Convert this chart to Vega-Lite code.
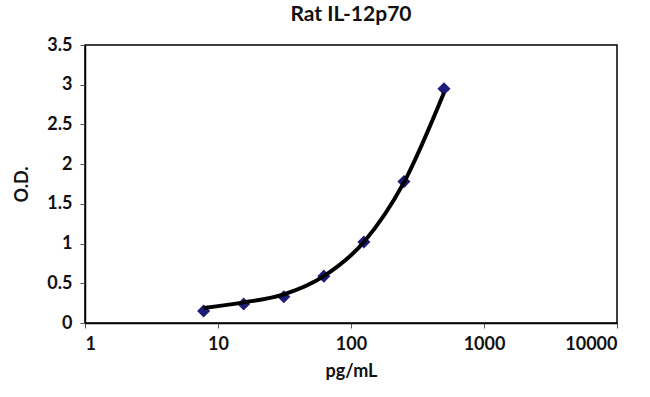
{
  "$schema": "https://vega.github.io/schema/vega-lite/v6.json",
  "autosize": "none",
  "width": 532,
  "height": 278,
  "padding": {"left": 85, "top": 45, "right": 33, "bottom": 74},
  "background": "white",
  "title": {"text": "Rat IL-12p70", "font": "Lato", "fontSize": 21, "fontWeight": "bold", "color": "#111111", "offset": 11, "anchor": "middle"},
  "config": {"view": {"stroke": "#000000", "strokeWidth": 1.5}},
  "datasets": {
    "pts": [
      {"conc": 7.8, "od": 0.15},
      {"conc": 15.6, "od": 0.24},
      {"conc": 31.25, "od": 0.33},
      {"conc": 62.5, "od": 0.59},
      {"conc": 125, "od": 1.02},
      {"conc": 250, "od": 1.78},
      {"conc": 500, "od": 2.95}
    ],
    "fit": [
      {"conc": 7.8, "od": 0.19},
      {"conc": 15.6, "od": 0.26},
      {"conc": 31.25, "od": 0.36},
      {"conc": 62.5, "od": 0.59},
      {"conc": 125, "od": 1.02},
      {"conc": 250, "od": 1.77},
      {"conc": 500, "od": 2.9}
    ]
  },
  "encoding": {
    "x": {"field": "conc", "type": "quantitative",
      "scale": {"type": "log", "domain": [1, 10000], "nice": false},
      "axis": {"values": [1, 10, 100, 1000, 10000], "format": "d", "title": "pg/mL", "grid": false,
        "domainColor": "#000", "domainWidth": 1.5, "tickColor": "#555", "tickSize": 5,
        "labelFont": "Lato", "labelFontSize": 18, "labelFontWeight": "bold", "labelColor": "#111",
        "labelPadding": 7, "titleFont": "Lato", "titleFontSize": 18, "titleFontWeight": "bold", "titleColor": "#111", "titlePadding": 9}},
    "y": {"field": "od", "type": "quantitative",
      "scale": {"domain": [0, 3.5], "nice": false},
      "axis": {"values": [0, 0.5, 1, 1.5, 2, 2.5, 3, 3.5], "format": "~g", "title": "O.D.", "grid": false,
        "domainColor": "#000", "domainWidth": 1.5, "tickColor": "#555", "tickSize": 5,
        "labelFont": "Lato", "labelFontSize": 18, "labelFontWeight": "bold", "labelColor": "#111",
        "labelPadding": 8, "titleFont": "Lato", "titleFontSize": 18, "titleFontWeight": "bold", "titleColor": "#111", "titlePadding": 15}}
  },
  "layer": [
    {"data": {"name": "pts"}, "mark": {"type": "point", "shape": "diamond", "filled": true, "color": "#1c1c7a", "size": 170, "opacity": 1}},
    {"data": {"name": "fit"}, "mark": {"type": "line", "color": "#000000", "strokeWidth": 4, "interpolate": "monotone"}}
  ]
}
